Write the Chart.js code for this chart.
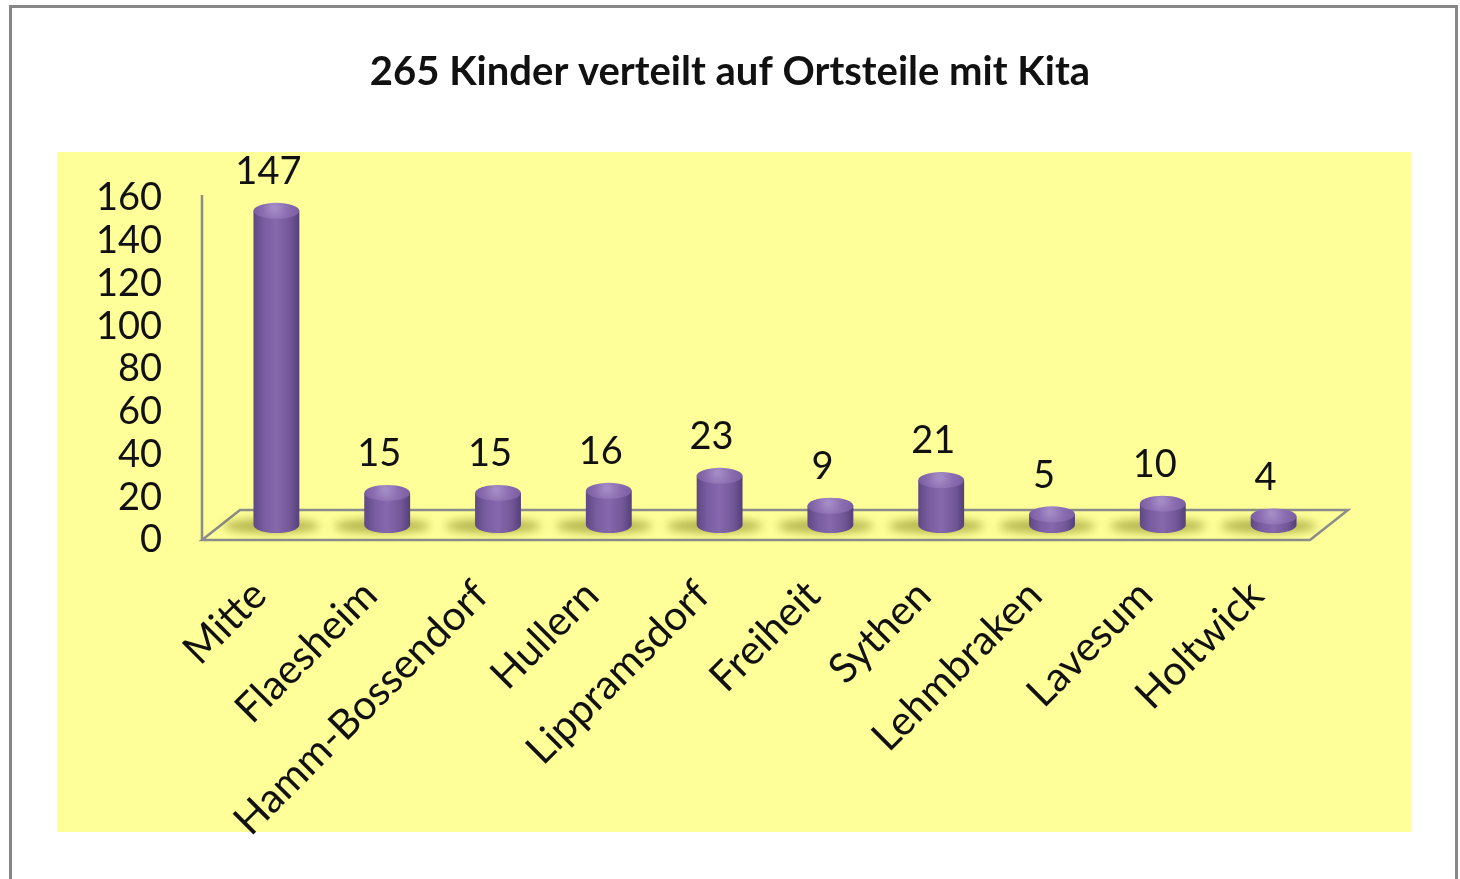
<!DOCTYPE html>
<html>
<head>
<meta charset="utf-8">
<script src="https://cdn.jsdelivr.net/npm/chart.js@4"></script>
<style>
  html, body { margin: 0; padding: 0; background: #fff; }
  #wrap { width: 1460px; height: 879px; }
</style>
</head>
<body>
<div id="wrap"><canvas id="kita" width="1460" height="879"></canvas></div>
<script>
var categories = ['Mitte', 'Flaesheim', 'Hamm-Bossendorf', 'Hullern', 'Lippramsdorf', 'Freiheit', 'Sythen', 'Lehmbraken', 'Lavesum', 'Holtwick'];
var kinder = [147, 15, 15, 16, 23, 9, 21, 5, 10, 4];
var yMin = 0, yMax = 160, yStep = 20;
var title = '265 Kinder verteilt auf Ortsteile mit Kita';

var DX = 19, DY = 15;   // half depth of the 3d floor
var BAR_PCT = 0.414;

function bodyGradient(c, x, w) {
  var g = c.createLinearGradient(x - w / 2, 0, x + w / 2, 0);
  g.addColorStop(0, '#5f4884');
  g.addColorStop(0.25, '#7a5ea2');
  g.addColorStop(0.5, '#8668ad');
  g.addColorStop(0.8, '#725798');
  g.addColorStop(1, '#54407a');
  return g;
}

var cylinders = {
  id: 'cylinders',
  beforeDraw: function(chart) {
    var c = chart.ctx, a = chart.chartArea;
    var y0 = chart.scales.y.getPixelForValue(yMin);
    var yTop = chart.scales.y.getPixelForValue(yMax);
    c.save();
    c.fillStyle = '#fff';
    c.fillRect(0, 0, chart.width, chart.height);
    // frame
    c.strokeStyle = '#878787';
    c.lineWidth = 3;
    c.beginPath();
    c.moveTo(10.5, 900); c.lineTo(10.5, 6.5); c.lineTo(1456.5, 6.5); c.lineTo(1456.5, 900);
    c.stroke();
    // plot area
    c.fillStyle = '#ffff99';
    c.fillRect(57, 152, 1354, 680);
    // floor
    c.strokeStyle = '#8c8c8c';
    c.lineWidth = 2.5;
    c.beginPath();
    c.moveTo(a.left - DX, y0 + DY);
    c.lineTo(a.right - DX, y0 + DY);
    c.lineTo(a.right + DX, y0 - DY);
    c.lineTo(a.left + DX, y0 - DY);
    c.closePath();
    c.stroke();
    // value axis
    c.beginPath();
    c.moveTo(a.left - DX, yTop + DY - 3);
    c.lineTo(a.left - DX, y0 + DY);
    c.stroke();
    c.restore();
  },
  beforeDatasetsDraw: function(chart) {
    var c = chart.ctx;
    var meta = chart.getDatasetMeta(0);
    c.save();
    meta.data.forEach(function(el) {
      var w = el.width;
      // shadow on floor
      c.save();
      c.filter = 'blur(5px)';
      c.fillStyle = 'rgba(105, 105, 0, 0.5)';
      c.beginPath();
      c.ellipse(el.x - 5, el.base + 1, w * 1.05, 7, 0, 0, Math.PI * 2);
      c.fill();
      c.restore();
      // bottom cap
      c.fillStyle = bodyGradient(c, el.x, w);
      c.beginPath();
      c.ellipse(el.x, el.base, w / 2, 8, 0, 0, Math.PI);
      c.fill();
    });
    c.restore();
  },
  afterDatasetsDraw: function(chart) {
    var c = chart.ctx;
    var meta = chart.getDatasetMeta(0);
    c.save();
    meta.data.forEach(function(el, i) {
      var w = el.width;
      var g = c.createRadialGradient(el.x - 2, el.y - 3, 2, el.x, el.y, w / 2);
      g.addColorStop(0, '#a48bc6');
      g.addColorStop(0.5, '#8b6db1');
      g.addColorStop(1, '#7a5ea0');
      c.fillStyle = g;
      c.beginPath();
      c.ellipse(el.x, el.y, w / 2, 8, 0, 0, Math.PI * 2);
      c.fill();
      c.fillStyle = '#111';
      c.font = '38px Lato';
      c.textAlign = 'center';
      c.textBaseline = 'middle';
      c.fillText(String(kinder[i]), el.x - 8, el.y - 39);
    });
    c.restore();
  }
};

var ctx = document.getElementById('kita').getContext('2d');
var chart = new Chart(ctx, {
  type: 'bar',
  data: {
    labels: categories,
    datasets: [{
      label: 'Kinder',
      data: kinder,
      borderWidth: 0,
      barPercentage: BAR_PCT,
      categoryPercentage: 1,
      backgroundColor: function(context) {
        var ch = context.chart;
        var xs = ch.scales.x;
        if (!xs || !ch.chartArea) return '#7b5fa0';
        var x = xs.getPixelForValue(context.dataIndex);
        var w = (xs.width / categories.length) * BAR_PCT;
        return bodyGradient(ch.ctx, x, w);
      }
    }]
  },
  options: {
    responsive: false,
    animation: false,
    layout: { padding: 0 },
    plugins: {
      legend: { display: false },
      tooltip: { enabled: false },
      title: {
        display: true,
        text: title,
        color: '#111',
        font: { family: 'Lato', size: 40, weight: 'bold' },
        padding: { top: 48, bottom: 87 }
      }
    },
    scales: {
      x: {
        grid: { display: false, drawTicks: false },
        border: { display: false },
        ticks: {
          color: '#111',
          font: { family: 'Lato', size: 41 },
          minRotation: 45,
          maxRotation: 45,
          autoSkip: false,
          padding: 46,
          labelOffset: -17
        },
        afterFit: function(scale) { scale.height = 354; }
      },
      y: {
        min: yMin,
        max: yMax,
        grid: { display: false, drawTicks: false },
        border: { display: false },
        ticks: {
          stepSize: yStep,
          autoSkip: false,
          color: '#111',
          font: { family: 'Lato', size: 38 },
          padding: 59,
          labelOffset: DY
        },
        afterFit: function(scale) { scale.width = 221; }
      },
      spacer: {
        type: 'linear',
        position: 'right',
        grid: { display: false, drawTicks: false },
        border: { display: false },
        ticks: { display: false },
        afterFit: function(scale) { scale.width = 131; }
      }
    }
  },
  plugins: [cylinders]
});
</script>
</body>
</html>
